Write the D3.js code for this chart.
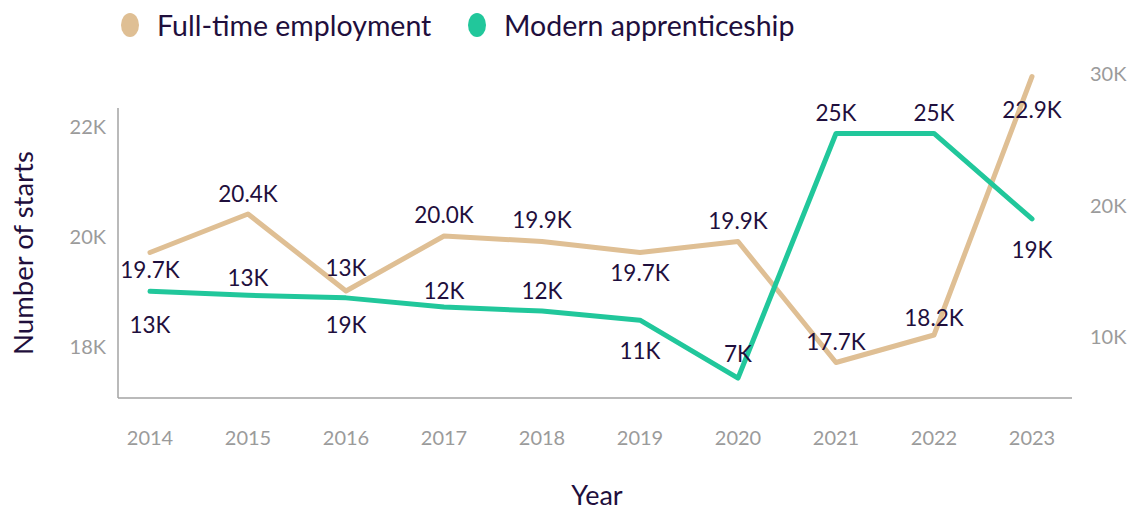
<!DOCTYPE html>
<html>
<head>
<meta charset="utf-8">
<script src="https://cdn.jsdelivr.net/npm/d3@7"></script>
<style>
  html, body { margin: 0; padding: 0; background: #fff; }
  svg { display: block; font-family: "Lato", "Noto Sans", sans-serif; }
</style>
</head>
<body>
<svg id="chart" width="1134" height="511"></svg>
<script>
// Starts per year, two series on separate y axes
const years = ["2014", "2015", "2016", "2017", "2018", "2019", "2020", "2021", "2022", "2023"];
const fullTime = [19.7, 20.4, 19.0, 20.0, 19.9, 19.7, 19.9, 17.7, 18.2, 22.9];          // thousands, left axis
const fullTimeLabels = ["19.7K", "20.4K", "19K", "20.0K", "19.9K", "19.7K", "19.9K", "17.7K", "18.2K", "22.9K"];
const apprenticeship = [13.4, 13.1, 12.9, 12.2, 11.9, 11.2, 6.8, 25.4, 25.4, 18.9];     // thousands, right axis
const apprenticeshipLabels = apprenticeship.map(v => d3.format(".0f")(v) + "K");
const leftTicks = [18, 20, 22];
const rightTicks = [10, 20, 30];
const seriesNames = ["Full-time employment", "Modern apprenticeship"];

// Label placement (vertical offset from each point)
const fullTimeLabelDy = [17, -21, 33, -22, -22, 20, -21, -21, -18, 33];
const apprenticeshipLabelDy = [33, -18, -30, -17, -21, 30, -25, -21, -21, 31];

const colors = { full: "#dfbf94", appr: "#21c79b", text: "#1f0f3d", tick: "#9b9b9b", axis: "#a3a3a3" };

const svg = d3.select("#chart");

const x = d3.scalePoint().domain(years).range([150, 1032]);
const yLeft = d3.scaleLinear().domain([18, 22]).range([346, 126]);
const yRight = d3.scaleLinear().domain([10, 30]).range([336, 73]);

const plot = { left: 118, right: 1072, top: 108, bottom: 398 };

// Axis frame
svg.append("line")
  .attr("x1", plot.left).attr("x2", plot.left)
  .attr("y1", plot.top).attr("y2", plot.bottom)
  .attr("stroke", colors.axis).attr("stroke-width", 1.5);
svg.append("line")
  .attr("x1", plot.left).attr("x2", plot.right)
  .attr("y1", plot.bottom).attr("y2", plot.bottom)
  .attr("stroke", colors.axis).attr("stroke-width", 1.5);

// Tick labels
svg.append("g").selectAll("text").data(leftTicks).join("text")
  .attr("x", 106).attr("y", d => yLeft(d))
  .attr("text-anchor", "end").attr("dominant-baseline", "central")
  .attr("fill", colors.tick).attr("font-size", 20)
  .text(d => d + "K");
svg.append("g").selectAll("text").data(rightTicks).join("text")
  .attr("x", 1090).attr("y", d => yRight(d))
  .attr("text-anchor", "start").attr("dominant-baseline", "central")
  .attr("fill", colors.tick).attr("font-size", 20)
  .text(d => d + "K");
svg.append("g").selectAll("text").data(years).join("text")
  .attr("x", d => x(d)).attr("y", 437)
  .attr("text-anchor", "middle").attr("dominant-baseline", "central")
  .attr("fill", colors.tick).attr("font-size", 20)
  .text(d => d);

// Axis titles
svg.append("text")
  .attr("transform", "translate(22,253) rotate(-90)")
  .attr("text-anchor", "middle").attr("dominant-baseline", "central")
  .attr("fill", colors.text).attr("font-size", 27.5)
  .text("Number of starts");
svg.append("text")
  .attr("x", 597).attr("y", 505)
  .attr("text-anchor", "middle")
  .attr("fill", colors.text).attr("font-size", 27)
  .text("Year");

// Lines
const lineLeft = d3.line().x((d, i) => x(years[i])).y(d => yLeft(d));
const lineRight = d3.line().x((d, i) => x(years[i])).y(d => yRight(d));

svg.append("path").datum(fullTime)
  .attr("d", lineLeft).attr("fill", "none")
  .attr("stroke", colors.full).attr("stroke-width", 5)
  .attr("stroke-linejoin", "round").attr("stroke-linecap", "round");
svg.append("path").datum(apprenticeship)
  .attr("d", lineRight).attr("fill", "none")
  .attr("stroke", colors.appr).attr("stroke-width", 5)
  .attr("stroke-linejoin", "round").attr("stroke-linecap", "round");

// Data labels
svg.append("g").selectAll("text").data(fullTime).join("text")
  .attr("x", (d, i) => x(years[i]))
  .attr("y", (d, i) => yLeft(d) + fullTimeLabelDy[i])
  .attr("text-anchor", "middle").attr("dominant-baseline", "central")
  .attr("fill", colors.text).attr("font-size", 22.5)
  .text((d, i) => fullTimeLabels[i]);
svg.append("g").selectAll("text").data(apprenticeship).join("text")
  .attr("x", (d, i) => x(years[i]))
  .attr("y", (d, i) => yRight(d) + apprenticeshipLabelDy[i])
  .attr("text-anchor", "middle").attr("dominant-baseline", "central")
  .attr("fill", colors.text).attr("font-size", 22.5)
  .text((d, i) => apprenticeshipLabels[i]);

// Legend
const legendX = [130, 477];
const legendColors = [colors.full, colors.appr];
const legend = svg.append("g").selectAll("g").data(seriesNames).join("g")
  .attr("transform", (d, i) => `translate(${legendX[i]},25)`);
legend.append("ellipse").attr("rx", 9).attr("ry", 12)
  .attr("fill", (d, i) => legendColors[i]);
legend.append("text").attr("x", 27).attr("y", 0)
  .attr("dominant-baseline", "central")
  .attr("fill", colors.text).attr("font-size", 28.5)
  .text(d => d);
</script>
</body>
</html>
